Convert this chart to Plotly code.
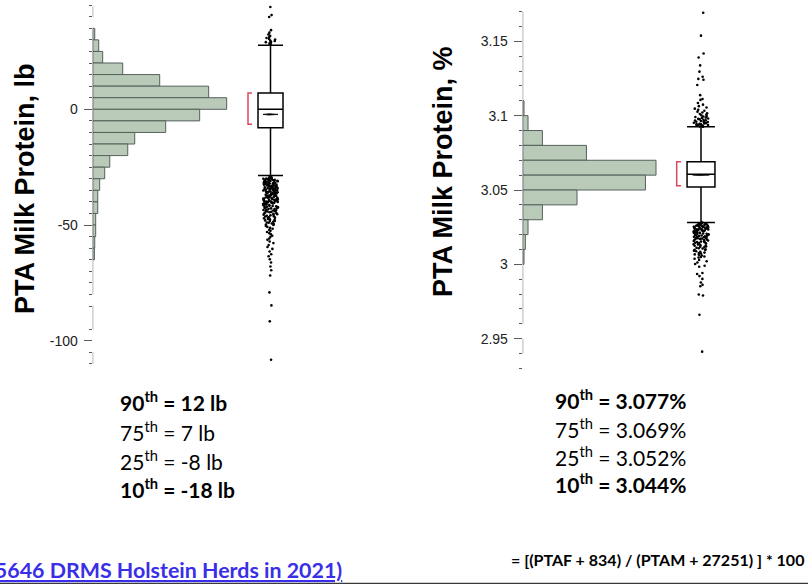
import plotly.graph_objects as go

W, H = 808, 584

# ---------------- PTA Milk Protein, lb ----------------
lb_bin_lo = [30, 25, 20, 15, 10, 5, 0, -5, -10, -15, -20, -25, -30, -35, -40, -45, -50, -55, -60, -65]
lb_counts = [17, 50, 83, 250, 558, 966, 1116, 891, 608, 350, 292, 142, 100, 58, 42, 42, 25, 25, 17, 14]
lb_bin_width = 5
lb_q1, lb_median, lb_q3 = -8, 0, 7
lb_mean = -2.2
lb_whisker_lo, lb_whisker_hi = -28.6, 27.7
lb_shortest_half = [-6.5, 7]
lb_out_hi = [28.1, 28.3, 28.4, 28.7, 28.9, 29.0, 29.2, 29.5, 29.7, 30.1, 30.4, 30.8,
             31.2, 31.7, 32.3, 33.1, 34.2, 39.9, 40.7, 44.2]
lb_out_lo = [-29.3, -29.4, -29.6, -29.7, -29.9, -30.0, -30.1, -30.3, -30.4, -30.6, -30.7, -30.9,
             -31.0, -31.1, -31.3, -31.5, -31.6, -31.8, -31.9, -32.0, -32.2, -32.3, -32.5, -32.6,
             -32.8, -33.0, -33.1, -33.3, -33.4, -33.6, -33.8, -33.9, -34.1, -34.3, -34.4, -34.6,
             -34.8, -34.9, -35.1, -35.3, -35.4, -35.6, -35.8, -36.0, -36.1, -36.3, -36.5, -36.6,
             -36.8, -37.0, -37.2, -37.3, -37.5, -37.7, -37.9, -38.0, -38.2, -38.4, -38.6, -38.7,
             -38.9, -39.1, -39.3, -39.5, -39.6, -39.8, -40.0, -40.2, -40.4, -40.5, -40.7, -40.9,
             -41.1, -41.3, -41.5, -41.7, -41.9, -42.1, -42.3, -42.4, -42.6, -42.8, -43.0, -43.3,
             -43.5, -43.7, -43.9, -44.1, -44.3, -44.6, -44.8, -45.0, -45.3, -45.5, -45.8, -46.0,
             -46.3, -46.6, -46.8, -47.1, -47.4, -47.7, -48.0, -48.3, -48.6, -48.9, -49.3, -49.6,
             -50.0, -50.4, -50.8, -51.2, -51.6, -52.1, -52.5, -53.0, -53.5, -54.0, -54.6, -55.1,
             -55.8, -56.4, -57.1, -57.8, -58.6, -59.5, -60.3, -61.4, -62.6, -63.5, -64.8, -66.2,
             -67.9, -69.5, -71.8, -79.1, -84.7, -91.6, -108.2,
             -29.5, -29.8, -30.2, -30.5, -30.8, -31.2, -31.4, -31.7, -32.1, -32.4, -32.7, -32.9,
             -33.2, -33.5, -33.7, -34.0, -34.2, -34.5, -34.7, -35.0, -35.2, -35.5, -35.7, -35.9,
             -36.2, -36.4, -36.7, -36.9, -37.1, -37.4, -37.6, -37.8, -38.1, -38.3, -38.5, -38.8,
             -39.0, -39.2, -39.4, -39.7, -39.9, -40.1, -40.3, -40.6, -40.8, -41.0, -41.4, -41.8,
             -42.2, -42.7, -43.1, -43.6, -44.0, -44.5, -45.1, -45.6, -46.2, -46.9, -47.5, -48.2,
             -49.0, -49.8]
lb_major_ticks = [0, -50, -100]
lb_minor_ticks = [45, 40, 35, 30, 25, 20, 15, 10, 5, -5, -10, -15, -20, -25, -30, -35, -40, -45,
                  -55, -60, -65, -70, -75, -80, -85, -95, -105, -110]
lb_axis_segments = [(44.5, 40), (35, -80), (-85, -95), (-105, -110)]
lb_pctl_lines = ["<b>90<sup>th</sup> = 12 lb</b>", "75<sup>th</sup> = 7 lb",
                 "25<sup>th</sup> = -8 lb", "<b>10<sup>th</sup> = -18 lb</b>"]

# ---------------- PTA Milk Protein, % ----------------
pct_bin_lo = [3.10, 3.09, 3.08, 3.07, 3.06, 3.05, 3.04, 3.03, 3.02, 3.01, 3.00]
pct_counts = [17, 70, 259, 838, 1753, 1614, 714, 259, 70, 35, 17]
pct_bin_width = 0.01
pct_q1, pct_median, pct_q3 = 3.052, 3.0606, 3.069
pct_mean = 3.0601
pct_whisker_lo, pct_whisker_hi = 3.0282, 3.0926
pct_shortest_half = [3.0529, 3.069]
pct_out_hi = [3.0925, 3.0927, 3.0929, 3.0931, 3.0933, 3.0935, 3.0937, 3.0939, 3.0941, 3.0943,
              3.0946, 3.0948, 3.0950, 3.0952, 3.0955, 3.0957, 3.0959, 3.0962, 3.0964, 3.0967,
              3.0969, 3.0972, 3.0975, 3.0978, 3.0981, 3.0984, 3.0987, 3.0991, 3.0994, 3.0998,
              3.1002, 3.1006, 3.1011, 3.1016, 3.1021, 3.1027, 3.1033, 3.1040, 3.1047, 3.1055,
              3.1064, 3.1074, 3.1085, 3.1106, 3.1112, 3.1138, 3.1206, 3.1241, 3.1247, 3.1262,
              3.1296, 3.1338, 3.1391, 3.1418, 3.1538, 3.1692]
pct_out_lo = [3.0281, 3.0279, 3.0277, 3.0275, 3.0273, 3.0271, 3.0269, 3.0267, 3.0265, 3.0263,
              3.0261, 3.0259, 3.0257, 3.0255, 3.0253, 3.0251, 3.0249, 3.0247, 3.0245, 3.0243,
              3.0241, 3.0238, 3.0236, 3.0234, 3.0232, 3.0229, 3.0227, 3.0225, 3.0222, 3.0220,
              3.0217, 3.0215, 3.0212, 3.0210, 3.0207, 3.0205, 3.0202, 3.0199, 3.0197, 3.0194,
              3.0191, 3.0188, 3.0185, 3.0182, 3.0179, 3.0176, 3.0173, 3.0170, 3.0167, 3.0163,
              3.0160, 3.0156, 3.0153, 3.0149, 3.0145, 3.0141, 3.0137, 3.0133, 3.0129, 3.0125,
              3.0120, 3.0116, 3.0111, 3.0106, 3.0101, 3.0096, 3.0091, 3.0085, 3.0079, 3.0073,
              3.0067, 3.0060, 3.0053, 3.0046, 3.0038, 3.0030, 3.0021, 3.0012, 3.0002, 2.9991,
              2.9984, 2.9942, 2.9935, 2.9921, 2.9902, 2.9878, 2.9862, 2.9853, 2.9797, 2.9791,
              2.9661, 2.9413,
              3.0280, 3.0276, 3.0272, 3.0268, 3.0264, 3.0260, 3.0256, 3.0252, 3.0248, 3.0244,
              3.0240, 3.0235, 3.0230, 3.0226, 3.0221, 3.0216, 3.0211, 3.0206, 3.0200, 3.0195,
              3.0189, 3.0183, 3.0177, 3.0171, 3.0164, 3.0157, 3.0150, 3.0143, 3.0135, 3.0127,
              3.0118, 3.0108, 3.0098, 3.0088, 3.0076, 3.0064, 3.0050]
pct_major_ticks = [3.15, 3.10, 3.05, 3.00, 2.95]
pct_major_text = ["3.15", "3.1", "3.05", "3", "2.95"]
pct_minor_ticks = [3.17, 3.16, 3.14, 3.13, 3.12, 3.11, 3.09, 3.08, 3.07, 3.06, 3.04, 3.03,
                   3.02, 3.01, 2.99, 2.98, 2.97, 2.96, 2.94, 2.93]
pct_axis_segments = [(3.17, 2.96), (2.95, 2.94)]
pct_pctl_lines = ["<b>90<sup>th</sup> = 3.077%</b>", "75<sup>th</sup> = 3.069%",
                  "25<sup>th</sup> = 3.052%", "<b>10<sup>th</sup> = 3.044%</b>"]

formula_text = "<b>= [(PTAF + 834) / (PTAM + 27251) ] * 100</b>"
herds_text = "<b><u>(5646 DRMS Holstein Herds in 2021)</u></b>"

# ---------------- styling ----------------
BAR_FILL = "#b9cab9"
BAR_EDGE = "#55605a"
AXIS_COL = "#5a5a5a"
BRACKET_COL = "#e0455f"
TICK_FONT = dict(family="Liberation Sans, Arial", size=14, color="#222222")


def fx(px):
    return px / W


def fy(py):
    return 1 - py / H


fig = go.Figure()


def add_panel(xh, yh, xb, bin_lo, counts, bw, q1, med, q3, mean, wlo, whi,
              half, outliers, box_w, br_x, lens_h):
    centers = [b + bw / 2 for b in bin_lo]
    fig.add_trace(go.Bar(
        y=centers, x=counts, orientation="h", width=bw,
        marker=dict(color=BAR_FILL, line=dict(color=BAR_EDGE, width=1)),
        xaxis=xh, yaxis=yh, showlegend=False, hoverinfo="x+y"))
    # jittered outlying herds
    fig.add_trace(go.Box(
        y=outliers, x0=0, orientation="v", boxpoints="all", jitter=1, pointpos=0,
        width=0.5, fillcolor="rgba(0,0,0,0)", line=dict(width=0, color="rgba(0,0,0,0)"),
        marker=dict(color="black", size=2.6), xaxis=xb, yaxis=yh, showlegend=False,
        hoveron="points"))
    # outlier box plot
    fig.add_trace(go.Box(
        x=[0], q1=[q1], median=[med], q3=[q3], lowerfence=[wlo], upperfence=[whi],
        orientation="v", boxpoints=False, width=box_w, whiskerwidth=1,
        fillcolor="white", line=dict(color="black", width=1.5),
        xaxis=xb, yaxis=yh, showlegend=False))
    # mean marker (flattened diamond)
    fig.add_trace(go.Scatter(
        x=[-0.3 * box_w, -0.05 * box_w, 0.3 * box_w, -0.05 * box_w, -0.3 * box_w],
        y=[mean, mean + lens_h, mean, mean - lens_h, mean],
        fill="toself", fillcolor="black", mode="lines", line=dict(color="black", width=0.8),
        xaxis=xb, yaxis=yh, showlegend=False, hoverinfo="skip"))
    # shortest-half bracket
    fig.add_trace(go.Scatter(
        x=[br_x[1], br_x[0], br_x[0], br_x[1]],
        y=[half[1], half[1], half[0], half[0]],
        mode="lines", line=dict(color=BRACKET_COL, width=1.5),
        xaxis=xb, yaxis=yh, showlegend=False, hoverinfo="skip"))


add_panel("x", "y", "x2", lb_bin_lo, lb_counts, lb_bin_width, lb_q1, lb_median, lb_q3,
          lb_mean, lb_whisker_lo, lb_whisker_hi, lb_shortest_half, lb_out_hi + lb_out_lo,
          0.833, (-0.75, -0.617), 0.3)
add_panel("x3", "y3", "x4", pct_bin_lo, pct_counts, pct_bin_width, pct_q1, pct_median, pct_q3,
          pct_mean, pct_whisker_lo, pct_whisker_hi, pct_shortest_half, pct_out_hi + pct_out_lo,
          0.93, (-0.81, -0.667), 0.0004)

# pixel geometry of the two panels
lb_zero_px, lb_scale = 109.3, 2.315          # px of value 0, px per lb
pct_ref_px, pct_ref, pct_scale = 190.0, 3.05, 1487.0
lb_cpp = 8.33                                 # herds per px of bar length
pct_cpp = 13.15

lb_range = [-(H - lb_zero_px) / lb_scale, lb_zero_px / lb_scale]
pct_range = [pct_ref - (H - pct_ref_px) / pct_scale, pct_ref + pct_ref_px / pct_scale]

hidden = dict(visible=False, showgrid=False, zeroline=False, fixedrange=True)


def yaxis_style(rng, anchor, tickvals, ticktext, minor_vals):
    return dict(
        domain=[0, 1], range=rng, anchor=anchor, showline=False, showgrid=False,
        zeroline=False, ticks="outside", ticklen=8, tickwidth=1, tickcolor=AXIS_COL,
        tickvals=tickvals, ticktext=ticktext, tickfont=TICK_FONT, ticklabelstandoff=3,
        minor=dict(tickmode="array", tickvals=minor_vals, ticks="outside", ticklen=3,
                   tickwidth=1, tickcolor=AXIS_COL, showgrid=False),
        fixedrange=True)


fig.update_layout(
    width=W, height=H, margin=dict(l=0, r=0, t=0, b=0),
    paper_bgcolor="white", plot_bgcolor="rgba(0,0,0,0)",
    barmode="overlay", boxmode="overlay", showlegend=False,
    xaxis=dict(domain=[fx(92.7), fx(250)], range=[0, (250 - 92.7) * lb_cpp], anchor="y", **hidden),
    xaxis2=dict(domain=[fx(240.5), fx(300.5)], range=[-1, 1], anchor="y", **hidden),
    xaxis3=dict(domain=[fx(522.7), fx(680)], range=[0, (680 - 522.7) * pct_cpp], anchor="y3", **hidden),
    xaxis4=dict(domain=[fx(671), fx(731)], range=[-1, 1], anchor="y3", **hidden),
    yaxis=yaxis_style(lb_range, "x", lb_major_ticks, [str(v) for v in lb_major_ticks], lb_minor_ticks),
    yaxis3=yaxis_style(pct_range, "x3", pct_major_ticks, pct_major_text, pct_minor_ticks),
)

shapes = []
for y0, y1 in lb_axis_segments:
    shapes.append(dict(type="line", xref="x", yref="y", x0=0, x1=0, y0=y0, y1=y1,
                       line=dict(color=AXIS_COL, width=1)))
for y0, y1 in pct_axis_segments:
    shapes.append(dict(type="line", xref="x3", yref="y3", x0=0, x1=0, y0=y0, y1=y1,
                       line=dict(color=AXIS_COL, width=1)))
shapes.append(dict(type="line", xref="paper", yref="paper", x0=0, x1=1, y0=fy(583.5), y1=fy(583.5),
                   line=dict(color="#3a3a3a", width=1.5)))
fig.update_layout(shapes=shapes)

ann = []
TITLE_FONT = dict(family="Liberation Sans, Arial", size=27, color="black")
ann.append(dict(text="<b>PTA Milk Protein, lb</b>", textangle=-90, xref="paper", yref="paper",
                x=fx(25), y=fy(189), xanchor="center", yanchor="middle", showarrow=False,
                font=TITLE_FONT))
ann.append(dict(text="<b>PTA Milk Protein, %</b>", textangle=-90, xref="paper", yref="paper",
                x=fx(442.5), y=fy(171.5), xanchor="center", yanchor="middle", showarrow=False,
                font=TITLE_FONT))

PCTL_FONT = dict(family="Lato, Carlito, Calibri", size=21, color="black")
for txt, py in zip(lb_pctl_lines, [401, 431, 460, 488]):
    ann.append(dict(text=txt, xref="paper", yref="paper", x=fx(118), y=fy(py),
                    xanchor="left", yanchor="middle", showarrow=False, font=PCTL_FONT))
for txt, py in zip(pct_pctl_lines, [399, 428, 456, 483]):
    ann.append(dict(text=txt, xref="paper", yref="paper", x=fx(553), y=fy(py),
                    xanchor="left", yanchor="middle", showarrow=False, font=PCTL_FONT))

ann.append(dict(text=formula_text, xref="paper", yref="paper", x=fx(806), y=fy(559),
                xanchor="right", yanchor="middle", showarrow=False,
                font=dict(family="Lato, Carlito, Calibri", size=16, color="black")))
ann.append(dict(text=herds_text, xref="paper", yref="paper", x=fx(344), y=fy(570),
                xanchor="right", yanchor="middle", showarrow=False,
                font=dict(family="Lato, Carlito, Calibri", size=21.4, color="#3a2ee8")))
fig.update_layout(annotations=ann)

fig.write_html("out.html")
